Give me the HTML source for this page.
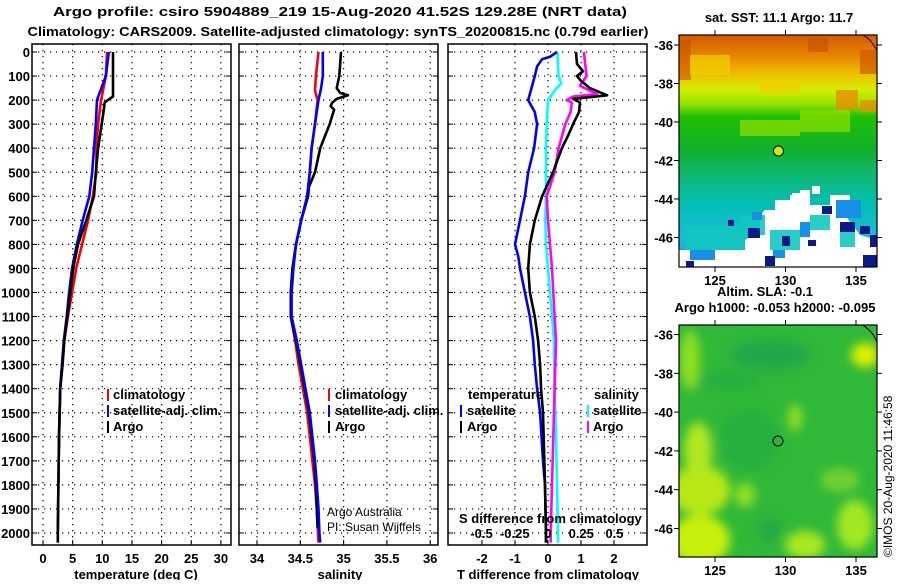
<!DOCTYPE html>
<html><head><meta charset="utf-8"><style>
body{margin:0;background:#fff}
svg text{font-family:"Liberation Sans",Arial,sans-serif;font-weight:bold;font-size:13px;fill:#000}
</style></head><body>
<svg id="c" width="900" height="580" xmlns="http://www.w3.org/2000/svg">
<defs>
<linearGradient id="sst" x1="0" y1="0" x2="0" y2="1">
<stop offset="0" stop-color="#d45a00"/><stop offset="0.1" stop-color="#e88a00"/>
<stop offset="0.17" stop-color="#f0c000"/><stop offset="0.24" stop-color="#d0f000"/>
<stop offset="0.3" stop-color="#90e000"/><stop offset="0.35" stop-color="#20c000"/>
<stop offset="0.5" stop-color="#10b030"/><stop offset="0.6" stop-color="#10b870"/>
<stop offset="0.72" stop-color="#00c0b0"/><stop offset="0.88" stop-color="#20b8d8"/>
<stop offset="1" stop-color="#2090e0"/></linearGradient>
<filter id="bl"><feGaussianBlur stdDeviation="5"/></filter>
<clipPath id="m1c"><rect x="679" y="35" width="198" height="232"/></clipPath>
<clipPath id="m2c"><rect x="679" y="325" width="198" height="232"/></clipPath>
</defs>
<text x="340" y="16" text-anchor="middle" textLength="574" lengthAdjust="spacingAndGlyphs" font-size="15">Argo profile: csiro 5904889_219 15-Aug-2020 41.52S 129.28E (NRT data)</text>
<text x="338" y="36" text-anchor="middle" textLength="621" lengthAdjust="spacingAndGlyphs" font-size="15">Climatology: CARS2009. Satellite-adjusted climatology: synTS_20200815.nc (0.79d earlier)</text>
<g id="grid"></g>
<g id="lines"></g>
<g id="frames"></g>
<g id="labels"></g>

<g>
<rect x="107" y="389" width="2" height="12" fill="#f00"/><text x="113" y="399">climatology</text>
<rect x="107" y="405" width="2" height="12" fill="#00f"/><text x="113" y="415">satellite-adj. clim.</text>
<rect x="107" y="421" width="2" height="12" fill="#000"/><text x="113" y="431">Argo</text>
</g>
<g>
<rect x="328" y="389" width="2" height="12" fill="#f00"/><text x="335" y="399">climatology</text>
<rect x="328" y="405" width="2" height="12" fill="#00f"/><text x="335" y="415">satellite-adj. clim.</text>
<rect x="328" y="421" width="2" height="12" fill="#000"/><text x="335" y="431">Argo</text>
</g>
<g>
<text x="468" y="399">temperature</text><text x="594" y="399">salinity</text>
<rect x="460" y="405" width="2" height="12" fill="#00f"/><text x="467" y="415">satellite</text>
<rect x="460" y="421" width="2" height="12" fill="#000"/><text x="467" y="431">Argo</text>
<rect x="587" y="405" width="2" height="12" fill="#0ff"/><text x="593" y="415">satellite</text>
<rect x="587" y="421" width="2" height="12" fill="#f0f"/><text x="593" y="431">Argo</text>
</g>
<text x="327" y="516" style="font-weight:normal;font-size:12px">Argo Australia</text>
<text x="327" y="531" style="font-weight:normal;font-size:12px">PI: Susan Wijffels</text>
<text x="459" y="523">S difference from climatology</text>

<text x="779" y="22" text-anchor="middle">sat. SST: 11.1 Argo: 11.7</text>
<g clip-path="url(#m1c)">
<rect x="679" y="35" width="198" height="232" fill="url(#sst)"/>
<g fill="#c85000" opacity="0.6"><rect x="808" y="38" width="20" height="14"/><rect x="860" y="50" width="17" height="24"/><rect x="679" y="40" width="12" height="40"/></g>
<g fill="#f0d000" opacity="0.7"><rect x="690" y="55" width="40" height="20"/><rect x="760" y="80" width="40" height="14"/></g>
<g fill="#e89000" opacity="0.8"><rect x="836" y="90" width="22" height="20"/><rect x="860" y="100" width="17" height="12"/></g>
<g fill="#90e000" opacity="0.7"><rect x="740" y="120" width="60" height="16"/><rect x="800" y="110" width="50" height="22"/></g>
<g fill="#fff">
<path d="M765 210 L775 210 L775 200 L790 200 L790 195 L800 195 L800 190 L810 190 L810 205 L830 205 L830 195 L850 195 L850 200 L845 215 L860 235 L877 240 L877 267 L679 267 L679 250 L745 250 L745 240 L760 230 L760 215 Z"/>
<rect x="792" y="193" width="8" height="5"/><rect x="812" y="186" width="8" height="8"/>
</g>
<g fill="#10c8c0" opacity="0.9"><rect x="740" y="215" width="25" height="20"/><rect x="770" y="230" width="30" height="20"/><rect x="685" y="225" width="60" height="25"/><rect x="810" y="215" width="20" height="15"/><rect x="840" y="232" width="15" height="15"/></g>
<g fill="#1890e8"><rect x="752" y="212" width="10" height="8"/><rect x="800" y="222" width="10" height="15"/><rect x="836" y="200" width="25" height="18"/><rect x="690" y="250" width="25" height="10"/><rect x="773" y="250" width="12" height="8"/></g>
<g fill="#0a1a88"><rect x="748" y="228" width="12" height="10"/><rect x="765" y="256" width="10" height="10"/><rect x="782" y="236" width="8" height="10"/><rect x="822" y="206" width="10" height="8"/><rect x="840" y="222" width="15" height="10"/><rect x="870" y="235" width="7" height="12"/><rect x="863" y="255" width="14" height="12"/><rect x="728" y="220" width="6" height="6"/><rect x="808" y="240" width="8" height="6"/><rect x="860" y="226" width="10" height="8"/><rect x="686" y="261" width="8" height="6"/></g>
<path d="M863 35 Q872 40 877 51" fill="none" stroke="#000" stroke-width="1"/>
</g>
<rect x="679" y="35" width="198" height="232" fill="none" stroke="#000" stroke-width="1.2"/>
<circle cx="778.5" cy="151" r="5" fill="#c8f000" stroke="#000"/>

<text x="765" y="296" text-anchor="middle">Altim. SLA: -0.1</text>
<text x="775" y="312" text-anchor="middle">Argo h1000: -0.053 h2000: -0.095</text>
<g clip-path="url(#m2c)">
<rect x="679" y="325" width="198" height="232" fill="#30b838"/>
<g filter="url(#bl)">
<ellipse cx="700" cy="490" rx="30" ry="25" fill="#b8e818"/><ellipse cx="700" cy="540" rx="30" ry="25" fill="#c8f010"/>
<ellipse cx="698" cy="450" rx="14" ry="28" fill="#b0e820"/><ellipse cx="865" cy="355" rx="14" ry="12" fill="#e0f000"/>
<ellipse cx="745" cy="495" rx="10" ry="12" fill="#90e020"/><ellipse cx="795" cy="418" rx="7" ry="14" fill="#90e020"/>
<ellipse cx="805" cy="545" rx="20" ry="14" fill="#a8e820"/><ellipse cx="855" cy="525" rx="18" ry="25" fill="#a0e820"/>
<ellipse cx="840" cy="480" rx="20" ry="12" fill="#70d030"/><ellipse cx="770" cy="355" rx="40" ry="15" fill="#20a848"/>
<ellipse cx="730" cy="380" rx="30" ry="10" fill="#28b040"/><ellipse cx="750" cy="440" rx="30" ry="30" fill="#28b040"/>
<ellipse cx="770" cy="530" rx="10" ry="12" fill="#20a848"/><ellipse cx="690" cy="360" rx="10" ry="30" fill="#90e020"/>
</g>
<path d="M862 325 Q872 330 877 342" fill="none" stroke="#000" stroke-width="1"/>
</g>
<rect x="679" y="325" width="198" height="232" fill="none" stroke="#000" stroke-width="1.2"/>
<circle cx="778" cy="441" r="5" fill="none" stroke="#000"/>
<text transform="translate(892,557) rotate(-90)" style="font-weight:normal;font-size:12px">©IMOS 20-Aug-2020 11:46:58</text>
<g id="maplabels"></g>
</svg>
<script>
// ---- data ----
const depthTicks=[0,100,200,300,400,500,600,700,800,900,1000,1100,1200,1300,1400,1500,1600,1700,1800,1900,2000];
const tTicks=[0,5,10,15,20,25,30];
const sTicks=[34,34.5,35,35.5,36];
const sTickLabels=["34","34.5","35","35.5","36"];
const dTTicks=[-2,-1,0,1,2];
const dSTicks=[-0.5,-0.25,0,0.25,0.5];
const dSTickLabels=["-0.5","-0.25","0","0.25","0.5"];
const latTicks=[-36,-38,-40,-42,-44,-46];
const lonTicks=[125,130,135];

const tArgoDepth=[0,100,185,195,210,250,300,400,500,600,700,800,900,1000,1100,1200,1300,1400,1500,1600,1800,2000,2040];
const tArgo=[11.8,11.8,11.8,11.2,10.4,10.2,9.9,9.3,8.9,8.6,7.3,5.9,5.1,4.6,4.1,3.6,3.3,2.9,2.8,2.7,2.6,2.5,2.5];
const tClimDepth=[0,100,200,300,400,500,600,700,800,900,1000,1100,1200,1300,1400,1500,1650];
const tClim=[10.8,10.6,9.8,9.3,9.0,9.0,8.4,7.6,6.6,5.6,4.9,4.2,3.6,3.2,2.9,2.8,2.7];
const tSatDepth=[0,100,180,200,300,400,500,600,700,800,900,1000,1100,1200,1300,1400,1500,1600,1800,2000,2040];
const tSat=[11.1,10.6,9.4,9.1,8.9,8.6,8.3,7.8,6.7,5.7,4.9,4.4,4.0,3.5,3.2,2.9,2.8,2.7,2.6,2.5,2.5];

const sArgoDepth=[0,100,150,170,180,195,210,225,240,300,400,500,560,600,700,800,900,1000,1100,1200,1300,1400,1500,1600,1700,1800,1900,1980];
const sArgo=[34.97,34.95,34.92,34.96,35.05,34.92,34.87,34.85,34.89,34.84,34.73,34.67,34.6,34.59,34.51,34.45,34.41,34.39,34.39,34.45,34.5,34.55,34.6,34.63,34.66,34.68,34.69,34.7];
const sClimDepth=[0,100,160,200,300,400,500,600,700,800,900,1000,1100,1200,1300,1400,1500,1600,1700,1800,1900,2040];
const sClim=[34.71,34.68,34.67,34.7,34.67,34.63,34.61,34.58,34.51,34.45,34.41,34.39,34.39,34.44,34.48,34.53,34.58,34.61,34.64,34.67,34.69,34.71];
const sSatDepth=[0,100,150,200,300,400,500,600,700,800,900,1000,1100,1200,1300,1400,1500,1600,1700,1800,1900,2000,2040];
const sSat=[34.76,34.76,34.74,34.71,34.67,34.63,34.61,34.58,34.51,34.45,34.42,34.4,34.4,34.46,34.51,34.56,34.61,34.64,34.67,34.69,34.71,34.72,34.73];

const dTSatDepth=[0,20,30,60,100,150,200,250,300,400,500,600,700,800,850,900,1000,1100,1200,1300,1400,1500,1700,1800,2000,2040];
const dTSat=[0.27,0.06,-0.18,-0.33,-0.4,-0.5,-0.6,-0.4,-0.33,-0.42,-0.6,-0.7,-0.85,-1.0,-0.9,-0.85,-0.7,-0.55,-0.45,-0.4,-0.33,-0.24,-0.15,-0.09,-0.06,-0.06];
const dTArgoDepth=[0,50,80,100,120,150,180,195,210,250,300,350,400,500,600,700,800,900,1000,1100,1200,1300,1400,1500,1800,2000,2040];
const dTArgo=[0.85,0.88,1.06,0.88,1.0,1.27,1.79,0.76,0.97,0.94,0.76,0.6,0.42,0.15,-0.18,-0.4,-0.55,-0.6,-0.55,-0.4,-0.3,-0.24,-0.21,-0.15,-0.09,-0.06,-0.06];
const dSSatDepth=[0,100,130,160,200,300,400,500,600,700,800,900,1000,1100,1200,1400,1600,2000,2040];
const dSSat=[0.07,0.08,0.1,0.05,0,-0.01,-0.015,-0.015,-0.015,-0.02,-0.015,0,0.015,0.03,0.045,0.05,0.06,0.075,0.075];
const dSArgoDepth=[0,50,100,140,165,175,185,200,210,250,300,400,500,600,700,800,900,1000,1100,1200,1400,1600,1800,2000,2040];
const dSArgo=[0.27,0.28,0.29,0.24,0.33,0.37,0.19,0.14,0.18,0.17,0.13,0.08,0.05,-0.01,0,0.015,0.03,0.04,0.05,0.06,0.05,0.04,0.03,0.02,0.02];

// ---- axes ----
const NS="http://www.w3.org/2000/svg";
const Y0=52, YPX=0.2405, TOP=44, BOT=545;
const yD=d=>Y0+d*YPX;
const xT=v=>43+v*5.93;
const xS=v=>257+(v-34)*86.6;
const xDT=v=>548+v*33;
const xDS=v=>548+v*133;
const panels=[{x:32,w:199,n:'temperature'},{x:239,w:199,n:'salinity'},{x:448,w:199,n:'difference'}];
function mk(tag,at,parent){const e=document.createElementNS(NS,tag);for(const k in at)e.setAttribute(k,at[k]);parent.appendChild(e);return e;}
const G=document.getElementById('grid'),L=document.getElementById('lines'),F=document.getElementById('frames'),LB=document.getElementById('labels');
const dash={stroke:'#000','stroke-width':1.2,'stroke-dasharray':'1.2 4.8'};
panels.forEach(p=>{
  depthTicks.forEach(d=>{const l=mk('line',Object.assign({x1:p.x,x2:p.x+p.w,y1:yD(d),y2:yD(d)},dash),G);
    
    
    mk('line',{x1:p.x,x2:p.x+5,y1:yD(d),y2:yD(d),stroke:'#000'},G);mk('line',{x1:p.x+p.w-5,x2:p.x+p.w,y1:yD(d),y2:yD(d),stroke:'#000'},G);});
  const r=mk('rect',{x:p.x,y:TOP,width:p.w,height:BOT-TOP,fill:'none',stroke:'#000','stroke-width':1.5},F);
  
  
});
function vgrid(vals,fx,labels,name,ly){vals.forEach((v,i)=>{const x=fx(v);
  const l=mk('line',Object.assign({x1:x,x2:x,y1:TOP,y2:BOT},dash),G);
  
  
  mk('line',{x1:x,x2:x,y1:BOT-5,y2:BOT,stroke:'#000'},G);
  const t=mk('text',{x:x,y:ly,'text-anchor':'middle'},LB);t.textContent=labels[i];
  
  });}
vgrid(tTicks,xT,tTicks.map(String),'temperature',563);
vgrid(sTicks,xS,sTickLabels,'salinity',563);
vgrid(dTTicks,xDT,dTTicks.map(String),'t-diff',563);
dSTicks.forEach((v,i)=>{const t=mk('text',{x:xDS(v),y:538,'text-anchor':'middle'},LB);t.textContent=dSTickLabels[i];
  
  });
depthTicks.forEach(d=>{const t=mk('text',{x:30,y:yD(d)+5,'text-anchor':'end'},LB);t.textContent=d;
  
  });
[['temperature (deg C)',136,'temperature-axis-title'],['salinity',340,'salinity-axis-title'],['T difference from climatology',548,'t-diff-axis-title']].forEach(a=>{
  const t=mk('text',{x:a[1],y:579,'text-anchor':'middle'},LB);t.textContent=a[0];
  
  });
function line(ds,vs,fx,col,name){const pts=ds.map((d,i)=>fx(vs[i]).toFixed(1)+','+yD(d).toFixed(1)).join(' ');
  const pl=mk('polyline',{points:pts,fill:'none',stroke:col,'stroke-width':2.6,'stroke-linejoin':'round'},L);
  
  }
line(tClimDepth,tClim,xT,'#f00','temperature-climatology-line');
line(tSatDepth,tSat,xT,'#00f','temperature-satellite-line');
line(tArgoDepth,tArgo,xT,'#000','temperature-argo-line');
line(sClimDepth,sClim,xS,'#f00','salinity-climatology-line');
line(sArgoDepth,sArgo,xS,'#000','salinity-argo-line');
line(sSatDepth,sSat,xS,'#00f','salinity-satellite-line');
line(dSSatDepth,dSSat,xDS,'#0ff','s-diff-satellite-line');
line(dSArgoDepth,dSArgo,xDS,'#f0f','s-diff-argo-line');
line(dTSatDepth,dTSat,xDT,'#00f','t-diff-satellite-line');
line(dTArgoDepth,dTArgo,xDT,'#000','t-diff-argo-line');
// map axes
const ML=document.getElementById('maplabels');
const lonX=v=>715+(v-125)*14.1;
[[35,267,45,38.5,'sst'],[325,557,334.5,38.8,'sla']].forEach(m=>{
  latTicks.forEach(v=>{const y=m[2]+(-36-v)*m[3]/2;
    mk('line',{x1:679,x2:674,y1:y,y2:y,stroke:'#000'},ML);mk('line',{x1:877,x2:882,y1:y,y2:y,stroke:'#000'},ML);
    const t=mk('text',{x:673,y:y+5,'text-anchor':'end'},ML);t.textContent=v;
    
    });
  lonTicks.forEach(v=>{const x=lonX(v);mk('line',{x1:x,x2:x,y1:m[0],y2:m[0]-5,stroke:'#000'},ML);mk('line',{x1:x,x2:x,y1:m[1],y2:m[1]+5,stroke:'#000'},ML);
    const t=mk('text',{x:x,y:m[1]+18,'text-anchor':'middle'},ML);t.textContent=v;
    
    });
});
</script>
</body></html>
